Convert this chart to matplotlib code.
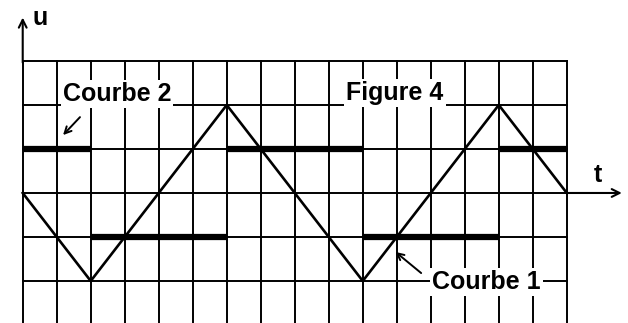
import matplotlib.pyplot as plt

# Courbe 1 : signal triangulaire (sommets)
tri_t = [0, 2, 6, 10, 14, 16]
tri_u = [0, -2, 2, -2, 2, 0]

# Courbe 2 : signal carré (paliers)
sq_start = [0, 2, 6, 10, 14]
sq_end = [2, 6, 10, 14, 16]
sq_level = [1, -1, 1, -1, 1]

grid_cols = list(range(0, 17))
grid_rows = [-2, -1, 0, 1, 2, 3]


def main():
    fig = plt.figure(figsize=(6.28, 3.23), dpi=100)
    ax = fig.add_axes([0, 0, 1, 1])
    ax.set_xlim(-0.668, 17.80)
    ax.set_ylim(-2.955, 4.386)
    ax.axis('off')

    # quadrillage
    for c in grid_cols:
        ax.plot([c, c], [-3.2, 3], color='black', lw=1.4, zorder=1)
    for r in grid_rows:
        ax.plot([0, 16], [r, r], color='black', lw=1.4, zorder=1)

    # axes u et t
    ax.annotate('', xy=(0, 4.05), xytext=(0, 2.9),
                arrowprops=dict(arrowstyle='->', lw=1.5, color='black',
                                mutation_scale=14))
    ax.annotate('', xy=(17.7, 0), xytext=(15.9, 0),
                arrowprops=dict(arrowstyle='->', lw=1.5, color='black',
                                mutation_scale=14))
    ax.text(0.3, 3.98, 'u', fontsize=18, fontweight='bold',
            family='Liberation Sans', ha='left', va='center')
    ax.text(16.92, 0.41, 't', fontsize=18, fontweight='bold',
            family='Liberation Sans', ha='center', va='center')

    # courbes
    ax.plot(tri_t, tri_u, color='black', lw=1.9, zorder=3)
    for a, b, v in zip(sq_start, sq_end, sq_level):
        ax.plot([a, b], [v, v], color='black', lw=4.5,
                solid_capstyle='butt', zorder=3)

    box = dict(facecolor='white', edgecolor='none', pad=1.5)
    lbl = dict(fontsize=18, fontweight='bold', family='Liberation Sans',
               ha='center', va='center', bbox=box, zorder=4)
    ax.text(2.77, 2.25, 'Courbe 2', **lbl)
    ax.text(10.95, 2.27, 'Figure 4', **lbl)
    ax.text(13.63, -2.02, 'Courbe 1', **lbl)

    ax.annotate('', xy=(1.13, 1.27), xytext=(1.74, 1.77),
                arrowprops=dict(arrowstyle='->', lw=1.4, color='black',
                                mutation_scale=12), zorder=5)
    ax.annotate('', xy=(10.9, -1.3), xytext=(11.78, -1.86),
                arrowprops=dict(arrowstyle='->', lw=1.4, color='black',
                                mutation_scale=12), zorder=5)

    fig.savefig('out.png', dpi=100)


if __name__ == "__main__":
    main()
